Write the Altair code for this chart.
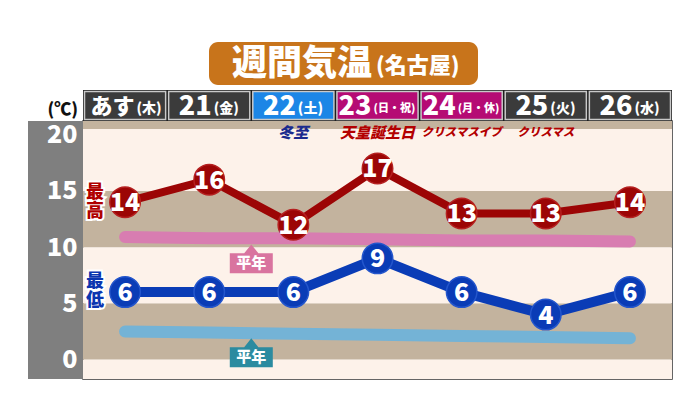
import altair as alt
import pandas as pd

# ---------------- data ----------------
days_main = ["あす", "21", "22", "23", "24", "25", "26"]
days_sub = ["(木)", "(金)", "(土)", "(日・祝)", "(月・休)", "(火)", "(水)"]
day_kind = ["平日", "平日", "土曜", "休日", "休日", "平日", "平日"]
events = ["", "", "冬至", "天皇誕生日", "クリスマスイブ", "クリスマス", ""]
event_kind = ["", "", "節気", "祝日", "行事", "行事", ""]
max_temp = [14, 16, 12, 17, 13, 13, 14]
min_temp = [6, 6, 6, 9, 6, 4, 6]
normal_max = [10.9, 10.8, 10.8, 10.7, 10.6, 10.6, 10.5]
normal_min = [2.5, 2.4, 2.3, 2.2, 2.1, 2.0, 1.9]
y_ticks = [0, 5, 10, 15, 20]
band_lo = [-1.73, 0, 5, 10, 15, 20.5]
band_hi = [0, 5, 10, 15, 20.5, 21.22]
band_kind = ["light", "tan", "light", "tan", "light", "tan"]

# ---------------- layout ----------------
PLOT_W, PLOT_H = 589, 258
X_DOM = [-0.5, 6.5]
Y_DOM = [-1.73, 21.22]
UNIT = PLOT_W / 7.0
PX_PER_DEG = PLOT_H / (Y_DOM[1] - Y_DOM[0])
FONT = "Noto Sans CJK JP"

xs = alt.Scale(domain=X_DOM, nice=False, zero=False)
ys = alt.Scale(domain=Y_DOM, nice=False, zero=False)
Y_AXIS = alt.Axis(values=y_ticks, labelFontSize=25, labelColor="white",
                  labelFont=FONT, labelFontWeight=900, ticks=False,
                  tickSize=0, domain=False, grid=False, labelPadding=6,
                  title=None, zindex=2)


def X(f):
    return alt.X(f, type="quantitative", scale=xs, axis=None)


def Y(f):
    return alt.Y(f, type="quantitative", scale=ys, axis=Y_AXIS)


one = pd.DataFrame({"a": [0]})
idx = list(range(7))

# ---------------- background bands ----------------
bands = pd.DataFrame({"lo": band_lo, "hi": band_hi, "kind": band_kind,
                      "x0": X_DOM[0], "x1": X_DOM[1]})
band_layer = alt.Chart(bands).mark_rect().encode(
    x=X("x0"), x2="x1", y=Y("lo"), y2="hi",
    color=alt.Color("kind:N", scale=alt.Scale(domain=["light", "tan"],
                                              range=["#fdf2ea", "#c3b39e"]),
                    legend=None),
)

gray_panel = alt.Chart(one).mark_rect(color="#7f7f7f").encode(
    x=alt.value(-55), x2=alt.value(0), y=alt.value(0), y2=alt.value(PLOT_H))

# ---------------- header ----------------
def est_w(s, fs):
    w = 0.0
    for c in s:
        if c in "()":
            w += 0.33 * fs
        elif c.isdigit():
            w += 0.56 * fs
        else:
            w += fs
    return w


rows = []
for i, (m, s, k) in enumerate(zip(days_main, days_sub, day_kind)):
    fm = 27 if m.isdigit() else 22
    fsub = 14 if len(s) <= 3 else 11
    wm, wsub = est_w(m, fm), est_w(s, fsub)
    total = wm + 2 + wsub
    left = -total / 2
    rows.append({"i": i, "x0": i - 0.5 + 1.5 / UNIT, "x1": i + 0.5 - 1.5 / UNIT,
                 "kind": k, "main": m, "sub": s, "fm": fm, "fsub": fsub,
                 "xm": i + (left + wm) / UNIT, "xs": i + (left + wm + 2) / UNIT})
hdr = pd.DataFrame(rows)

hdr_bg = alt.Chart(one).mark_rect(color="#1e1e1e").encode(
    x=alt.value(0), x2=alt.value(PLOT_W), y=alt.value(-31), y2=alt.value(0))
hdr_boxes = alt.Chart(hdr).mark_rect(stroke="#c9c9c9", strokeWidth=1.5).encode(
    x=X("x0"), x2="x1", y=alt.value(-29.5), y2=alt.value(-1.5),
    color=alt.Color("kind:N", scale=alt.Scale(domain=["平日", "土曜", "休日"],
                                              range=["#3b3b3b", "#1c86e6", "#b50b74"]),
                    legend=None),
)
hdr_main = alt.Chart(hdr).mark_text(font=FONT, fontWeight=900, color="white",
                                    align="right", baseline="middle").encode(
    x=X("xm"), y=alt.value(-14), text="main:N", size=alt.Size("fm:Q", scale=None))
hdr_sub = alt.Chart(hdr).mark_text(font=FONT, fontWeight=900, color="white",
                                   align="left", baseline="middle").encode(
    x=X("xs"), y=alt.value(-12), text="sub:N", size=alt.Size("fsub:Q", scale=None))

# ---------------- title ----------------
title_box = alt.Chart(one).mark_rect(color="#c8741b", cornerRadius=9).encode(
    x=alt.value(126), x2=alt.value(395), y=alt.value(-79), y2=alt.value(-36))
title_main = alt.Chart(one).mark_text(font=FONT, fontWeight=900, fontSize=35,
                                      color="white", align="right",
                                      baseline="middle").encode(
    x=alt.value(289), y=alt.value(-57), text=alt.value("週間気温"))
title_sub = alt.Chart(one).mark_text(font=FONT, fontWeight=900, fontSize=22,
                                     color="white", align="left",
                                     baseline="middle").encode(
    x=alt.value(293), y=alt.value(-55), text=alt.value("(名古屋)"))
unit_lbl = alt.Chart(one).mark_text(font=FONT, fontWeight=900, fontSize=17,
                                    color="#111111", align="right",
                                    baseline="middle").encode(
    x=alt.value(-5), y=alt.value(-11), text=alt.value("(℃)"))

# ---------------- event labels ----------------
ev = pd.DataFrame({"i": idx, "ev": events, "kind": event_kind})
ev = ev[ev["ev"] != ""].copy()
ev["fs"] = [15 if any("\u4e00" <= c <= "\u9fff" for c in e) else 11.5 for e in ev["ev"]]
ev_layer = alt.Chart(ev).mark_text(font=FONT, fontWeight=900, fontStyle="italic",
                                   baseline="middle").encode(
    x=X("i"), y=alt.value(12), text="ev:N", size=alt.Size("fs:Q", scale=None),
    color=alt.Color("kind:N", scale=alt.Scale(domain=["節気", "祝日", "行事"],
                                              range=["#1a2a8e", "#b30000", "#b30000"]),
                    legend=None),
)

# ---------------- normals ----------------
nm = pd.DataFrame({"i": idx, "v": normal_max})
nn = pd.DataFrame({"i": idx, "v": normal_min})
nm_line = alt.Chart(nm).mark_line(color="#d87db1", strokeWidth=12, strokeCap="round").encode(
    x=X("i"), y=Y("v"))
nn_line = alt.Chart(nn).mark_line(color="#74b3d6", strokeWidth=12, strokeCap="round").encode(
    x=X("i"), y=Y("v"))

lab_path = "M-1,-0.465L-0.33,-0.465L0,-0.88L0.33,-0.465L1,-0.465L1,0.465L-1,0.465Z"


def interp(vals, x):
    i0 = int(x)
    return vals[i0] + (vals[i0 + 1] - vals[i0]) * (x - i0)


lab_x = 1.5
lab_off = 19 / PX_PER_DEG  # arrow tip sits just under the line
heikin = pd.DataFrame({
    "x": [lab_x, lab_x],
    "y": [interp(normal_max, lab_x) - 0.55 - lab_off,
          interp(normal_min, lab_x) - 0.45 - lab_off],
    "k": ["max", "min"],
})
heikin_box = alt.Chart(heikin).mark_point(shape=lab_path, filled=True, opacity=1,
                                          size=1849, strokeWidth=0).encode(
    x=X("x"), y=Y("y"),
    color=alt.Color("k:N", scale=alt.Scale(domain=["max", "min"],
                                           range=["#d9749f", "#2b8ba0"]), legend=None))
heikin_txt = alt.Chart(heikin).mark_text(font=FONT, fontWeight=900, fontSize=15,
                                         color="white", baseline="middle").encode(
    x=X("x"), y=Y("y"), text=alt.value("平年"))

# ---------------- side labels ----------------
side = pd.DataFrame({"x": [-0.5 + 12 / UNIT] * 2, "y": [14.8, 6.9], "k": ["max", "min"],
                     "t": [["最", "高"], ["最", "低"]]})
side_halo = alt.Chart(side).mark_text(font=FONT, fontWeight=900, fontSize=18,
                                      lineHeight=19, stroke="white", strokeWidth=4,
                                      color="white", baseline="middle").encode(
    x=X("x"), y=Y("y"), text="t")
side_txt = alt.Chart(side).mark_text(font=FONT, fontWeight=900, fontSize=18,
                                     lineHeight=19, baseline="middle").encode(
    x=X("x"), y=Y("y"), text="t",
    color=alt.Color("k:N", scale=alt.Scale(domain=["max", "min"],
                                           range=["#b00000", "#0b35b0"]), legend=None))

# ---------------- temperature series ----------------
mx = pd.DataFrame({"i": idx, "v": max_temp})
mn = pd.DataFrame({"i": idx, "v": min_temp})


def series(df, color, lw, edge):
    line = alt.Chart(df).mark_line(color=color, strokeWidth=lw).encode(x=X("i"), y=Y("v"))
    dots = alt.Chart(df).mark_circle(color=color, opacity=1, size=930, stroke=edge,
                                     strokeWidth=1.5).encode(x=X("i"), y=Y("v"))
    txt = alt.Chart(df).mark_text(font=FONT, fontWeight=900, fontSize=25, color="white",
                                  baseline="middle", dy=1).encode(
        x=X("i"), y=Y("v"), text="v:Q")
    return [line, dots, txt]


layers = [gray_panel, band_layer, hdr_bg, hdr_boxes, hdr_main, hdr_sub,
          title_box, title_main, title_sub, unit_lbl, ev_layer,
          nm_line, nn_line, heikin_box, heikin_txt, side_halo, side_txt]
layers += series(mx, "#9c0505", 8, "#b52020")
layers += series(mn, "#0a3cb6", 10, "#2456cc")

chart = alt.layer(*layers).resolve_scale(color="independent", size="independent").properties(
    width=PLOT_W, height=PLOT_H,
    autosize=alt.AutoSizeParams(type="none"),
    padding={"left": 75, "top": 113, "right": 20, "bottom": 6},
    background="white",
).configure_view(stroke="#333333", strokeWidth=1.5)

chart.save("out.html", embed_options={"renderer": "svg", "actions": False})
